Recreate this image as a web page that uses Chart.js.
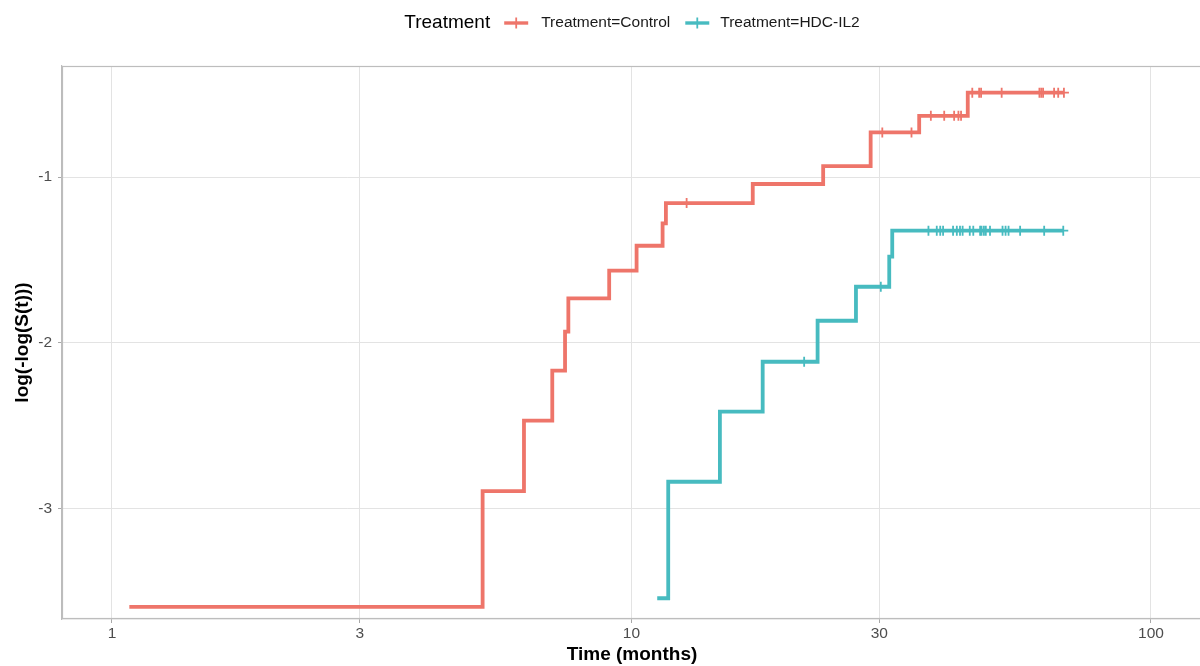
<!DOCTYPE html>
<html>
<head>
<meta charset="utf-8">
<script src="https://cdn.jsdelivr.net/npm/chart.js@4/dist/chart.umd.min.js"></script>
<style>
  html, body { margin: 0; padding: 0; background: #fff; overflow: hidden; width: 1200px; height: 666px; }
  #wrap { position: relative; width: 1202px; height: 666px; }
</style>
</head>
<body>
<div id="wrap"><canvas id="c" width="1202" height="666"></canvas></div>
<script>
// Complementary log-log survival curves by treatment arm
const groupNames = ['Treatment=Control', 'Treatment=HDC-IL2'];

// Control arm: event times (months) and log(-log(S(t))) after each event
const controlTimes = [1.08, 5.17, 6.21, 7.04, 7.45, 7.56, 9.06, 10.23, 11.48, 11.65, 17.12, 23.39, 28.87, 35.8, 44.4];
const controlLogLog = [-3.59, -2.892, -2.468, -2.167, -1.932, -1.731, -1.564, -1.414, -1.279, -1.157, -1.042, -0.934, -0.731, -0.631, -0.492];
const controlCensored = [12.77, 30.4, 34.6, 37.7, 40.0, 41.8, 42.6, 43.1, 45.3, 46.7, 47.1, 51.6, 61.0, 61.5, 62.0, 65.1, 66.3, 68.0];

// HDC-IL2 arm
const hdcTimes = [11.21, 11.77, 14.80, 17.89, 22.82, 27.05, 31.35, 31.77];
const hdcLogLog = [-3.538, -2.836, -2.414, -2.113, -1.866, -1.661, -1.480, -1.323];
const hdcCensored = [21.5, 30.2, 37.3, 38.7, 39.3, 39.8, 41.6, 42.3, 42.9, 43.4, 44.8, 45.5, 46.9, 47.2, 47.7, 48.1, 49.0, 51.8, 52.5, 53.2, 56.0, 62.3, 67.8];

const xTicks = [1, 3, 10, 30, 100];
const yTicks = [-3, -2, -1];

const colors = ['#EE756A', '#47BBC0'];
const FONT = '"Liberation Sans", Arial, Helvetica, sans-serif';

// value of the step function at time t
function levelAt(times, vals, t) {
  let v = vals[0];
  for (let i = 0; i < times.length; i++) if (times[i] <= t) v = vals[i];
  return v;
}
function curvePoints(times, vals, censored) {
  const pts = times.map((t, i) => ({ x: t, y: vals[i] }));
  const last = Math.max(...censored);
  if (last > times[times.length - 1]) pts.push({ x: last, y: levelAt(times, vals, last) });
  return pts;
}
function censorPoints(times, vals, censored) {
  return censored.map(t => ({ x: t, y: levelAt(times, vals, t) }));
}

const groups = [
  { times: controlTimes, vals: controlLogLog, cens: controlCensored },
  { times: hdcTimes, vals: hdcLogLog, cens: hdcCensored }
];

const datasets = [];
groups.forEach((g, i) => {
  datasets.push({
    label: groupNames[i],
    data: curvePoints(g.times, g.vals, g.cens),
    borderColor: colors[i],
    backgroundColor: colors[i],
    borderWidth: 3.8,
    stepped: 'before',
    pointRadius: 0,
    fill: false,
    order: 2
  });
  datasets.push({
    label: groupNames[i] + ' censored',
    data: censorPoints(g.times, g.vals, g.cens),
    showLine: false,
    pointStyle: 'cross',
    pointRadius: 5,
    pointBorderWidth: 1.8,
    borderColor: colors[i],
    backgroundColor: colors[i],
    order: 1
  });
});

// panel border on all four sides
const panelBorder = {
  id: 'panelBorder',
  afterDatasetsDraw(chart) {
    const a = chart.chartArea, ctx = chart.ctx;
    ctx.save();
    ctx.strokeStyle = '#bdbdbd';
    ctx.lineWidth = 1.2;
    ctx.strokeRect(a.left + 0.5, a.top + 0.5, a.right - a.left - 1, a.bottom - a.top - 1);
    ctx.restore();
  }
};

// legend strip above the panel: title then key/label pairs
const topLegend = {
  id: 'topLegend',
  afterDraw(chart) {
    const ctx = chart.ctx, a = chart.chartArea;
    const y = 23;
    ctx.save();
    ctx.textBaseline = 'middle';
    ctx.font = '19px ' + FONT;
    const titleW = ctx.measureText('Treatment').width;
    ctx.font = '15.5px ' + FONT;
    const labW = groupNames.map(n => ctx.measureText(n).width);
    const keyW = 24;
    const total = titleW + 14 + keyW + 13 + labW[0] + 15 + keyW + 11 + labW[1];
    let x = (a.left + a.right) / 2 - total / 2;
    ctx.fillStyle = '#000';
    ctx.font = '19px ' + FONT;
    ctx.textAlign = 'left';
    ctx.fillText('Treatment', x, y);
    x += titleW + 14;
    groupNames.forEach((n, i) => {
      ctx.strokeStyle = colors[i];
      ctx.lineWidth = 3.4;
      ctx.beginPath();
      ctx.moveTo(x, y); ctx.lineTo(x + keyW, y);
      ctx.stroke();
      ctx.lineWidth = 1.8;
      ctx.beginPath();
      ctx.moveTo(x + keyW / 2, y - 5.5); ctx.lineTo(x + keyW / 2, y + 5.5);
      ctx.stroke();
      x += keyW + (i === 0 ? 13 : 11);
      ctx.font = '15.5px ' + FONT;
      ctx.fillStyle = '#1a1a1a';
      ctx.fillText(n, x, y);
      x += labW[i] + 15;
    });
    ctx.restore();
  }
};

new Chart(document.getElementById('c'), {
  type: 'line',
  data: { datasets },
  options: {
    responsive: false,
    animation: false,
    layout: { autoPadding: false, padding: { top: 66, right: 0, left: 0, bottom: 0 } },
    plugins: { legend: { display: false }, tooltip: { enabled: false } },
    scales: {
      x: {
        type: 'logarithmic',
        min: 0.8013,
        max: 125.4,
        afterBuildTicks(scale) { scale.ticks = xTicks.map(v => ({ value: v })); },
        afterFit(scale) { scale.height = 47; },
        ticks: {
          autoSkip: false, maxRotation: 0,
          color: '#4d4d4d', font: { family: FONT, size: 15.5 }, padding: 1,
          callback: v => String(v)
        },
        grid: { color: '#e3e3e3', lineWidth: 1, tickLength: 4, tickColor: '#a8a8a8', tickWidth: 1 },
        border: { display: true, color: '#bdbdbd', width: 1.2 },
        title: {
          display: true, text: 'Time (months)', color: '#000',
          font: { family: FONT, size: 19, weight: 'bold' }, padding: { top: 0, bottom: 0 }
        }
      },
      y: {
        type: 'linear',
        min: -3.663,
        max: -0.331,
        afterBuildTicks(scale) { scale.ticks = yTicks.map(v => ({ value: v })); },
        afterFit(scale) { scale.width = 62; },
        ticks: {
          color: '#4d4d4d', font: { family: FONT, size: 15.5 }, padding: 6,
          callback: v => String(v)
        },
        grid: { color: '#e3e3e3', lineWidth: 1, tickLength: 4, tickColor: '#a8a8a8', tickWidth: 1 },
        border: { display: true, color: '#bdbdbd', width: 1.2 },
        title: {
          display: true, text: 'log(-log(S(t)))', color: '#000',
          font: { family: FONT, size: 19, weight: 'bold' }, padding: { top: 11, bottom: 0 }
        }
      }
    }
  },
  plugins: [panelBorder, topLegend]
});
</script>
</body>
</html>
